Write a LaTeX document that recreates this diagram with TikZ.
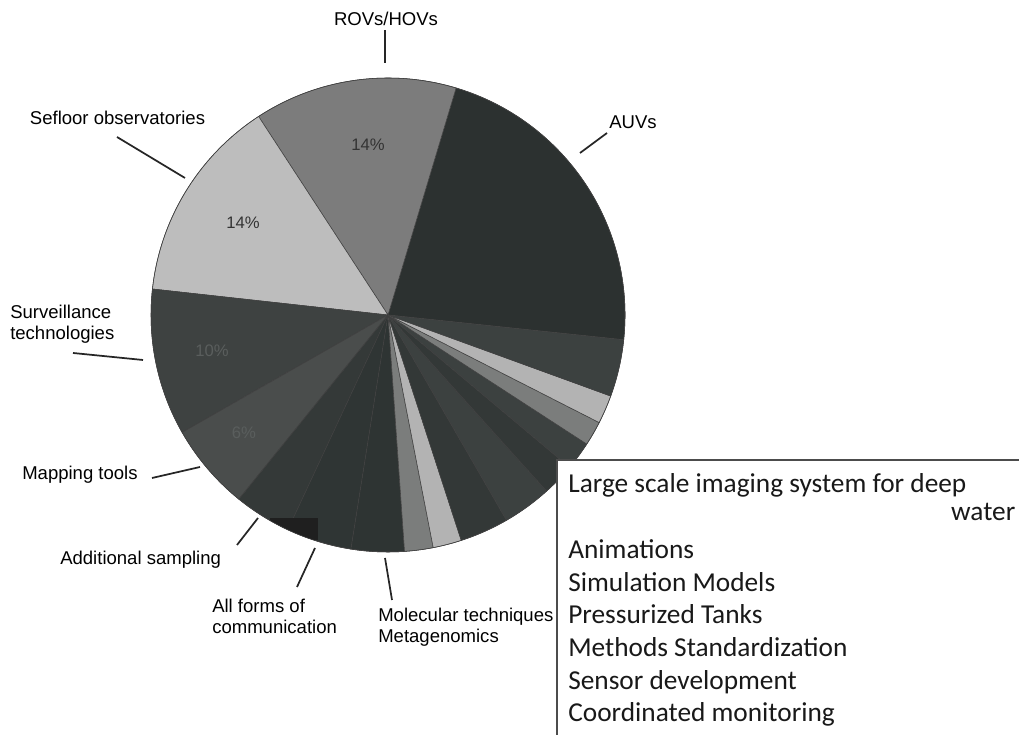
\documentclass[tikz,border=0pt]{standalone}
\usepackage{fontspec}
\setmainfont{Liberation Sans}
\newfontfamily\listfont{Carlito}
\usepackage{tikz}
\usepackage{xcolor}
\definecolor{slice-auv}{HTML}{2C3130}
\definecolor{slice-rov}{HTML}{7C7C7C}
\definecolor{slice-sefloor}{HTML}{BDBDBD}
\definecolor{slice-surv}{HTML}{3E4241}
\definecolor{slice-map}{HTML}{4A4D4C}
\definecolor{slice-sampling}{HTML}{343938}
\definecolor{slice-comm}{HTML}{2F3534}
\definecolor{slice-mol}{HTML}{2E3433}
\definecolor{slice-mid}{HTML}{7B7D7C}
\definecolor{slice-light}{HTML}{B3B3B3}
\definecolor{slice-dark-a}{HTML}{333837}
\definecolor{slice-dark-b}{HTML}{3C4140}
\definecolor{pct-dim}{HTML}{5A5E5D}
\tikzset{
    pie-slice/.style = {draw=black!75, line width=0.4pt},
    leader-line/.style = {draw=black!85, line width=1.3pt},
    chart-label/.style = {inner sep=0pt, font=\fontsize{13.9}{15.8}\selectfont, align=left},
    pct-label/.style = {inner sep=0pt, font=\fontsize{12.5}{14}\selectfont},
    box-line/.style = {draw=black!70, line width=0.8pt},
}
\begin{document}
\begin{tikzpicture}[x=0.75pt, y=0.75pt]
\useasboundingbox (0,0) rectangle (1019,734);
\coordinate (pie-center) at (388,419);
\foreach \a/\b/\c in {-6/73.3/slice-auv, 73.3/123.1/slice-rov, 123.1/173.7/slice-sefloor,
    173.7/209.7/slice-surv, 209.7/231/slice-map, 231/245/slice-sampling, 245/261/slice-comm,
    261/274/slice-mol, 274/281/slice-mid, 281/288/slice-light, 288/300/slice-dark-a,
    300/312/slice-dark-b, 312/320/slice-dark-a, 320/327/slice-dark-b, 327/333/slice-mid,
    333/340/slice-light, 340/354/slice-dark-b}
    {\filldraw[pie-slice, fill=\c] (pie-center) -- ++(\a:237) arc[start angle=\a, end angle=\b, radius=237] -- cycle;}
\begin{scope}
    \clip (pie-center) circle[radius=237];
    \fill[black!88] (270,194) rectangle (318,216);
\end{scope}
\draw[pie-slice] (pie-center) circle[radius=237];

\node[pct-label, text=black!80] (pct-rov) at (368,589) {14\%};
\node[pct-label, text=black!80] (pct-sefloor) at (243,511) {14\%};
\node[pct-label, text=pct-dim] (pct-surv) at (212,383) {10\%};
\node[pct-label, text=pct-dim] (pct-map) at (244,301) {6\%};

\node[chart-label] (rov) at (386,715) {ROVs/HOVs};
\node[chart-label] (auv) at (633,612) {AUVs};
\node[chart-label] (sefloor) at (117.5,616) {Sefloor observatories};
\node[chart-label, anchor=west] (surv) at (10,410) {Surveillance\\technologies};
\node[chart-label, anchor=west] (map) at (22,259) {Mapping tools};
\node[chart-label, anchor=west] (sampling) at (60,174) {Additional sampling};
\node[chart-label, anchor=west] (comm) at (212,117.5) {All forms of\\communication};
\node[chart-label, anchor=west] (mol) at (378,107) {Molecular techniques\\Metagenomics};

\coordinate (rov-a) at (385,704);       \coordinate (rov-b) at (385,671);
\coordinate (auv-a) at (607,601);       \coordinate (auv-b) at (580,581);
\coordinate (sefloor-a) at (117,597);   \coordinate (sefloor-b) at (185,556);
\coordinate (surv-a) at (73,381);       \coordinate (surv-b) at (143,374);
\coordinate (map-a) at (152,256);       \coordinate (map-b) at (200,267);
\coordinate (sampling-a) at (237,189);  \coordinate (sampling-b) at (258,216);
\coordinate (comm-a) at (297,147);      \coordinate (comm-b) at (315,186);
\coordinate (mol-a) at (392,134);       \coordinate (mol-b) at (385,176);
\foreach \n in {rov, auv, sefloor, surv, map, sampling, comm, mol}
    \draw[leader-line] (\n-a) -- (\n-b);

\fill[white] (557,-5) rectangle (1025,274);
\draw[box-line] (557,-5) |- (1025,274);
\node[inner sep=0pt, anchor=base west, text=black!90] (box-text) at (568,241) {\begin{minipage}[t]{335.25pt}
    \listfont\fontsize{20.5}{24.5}\selectfont
    Large scale imaging system for deep\\[-3.75pt]
    \hspace*{\fill}water\par\vspace{4pt}
    Animations\\
    Simulation Models\\
    Pressurized Tanks\\
    Methods Standardization\\
    Sensor development\\
    Coordinated monitoring
\end{minipage}};
\end{tikzpicture}
\end{document}
